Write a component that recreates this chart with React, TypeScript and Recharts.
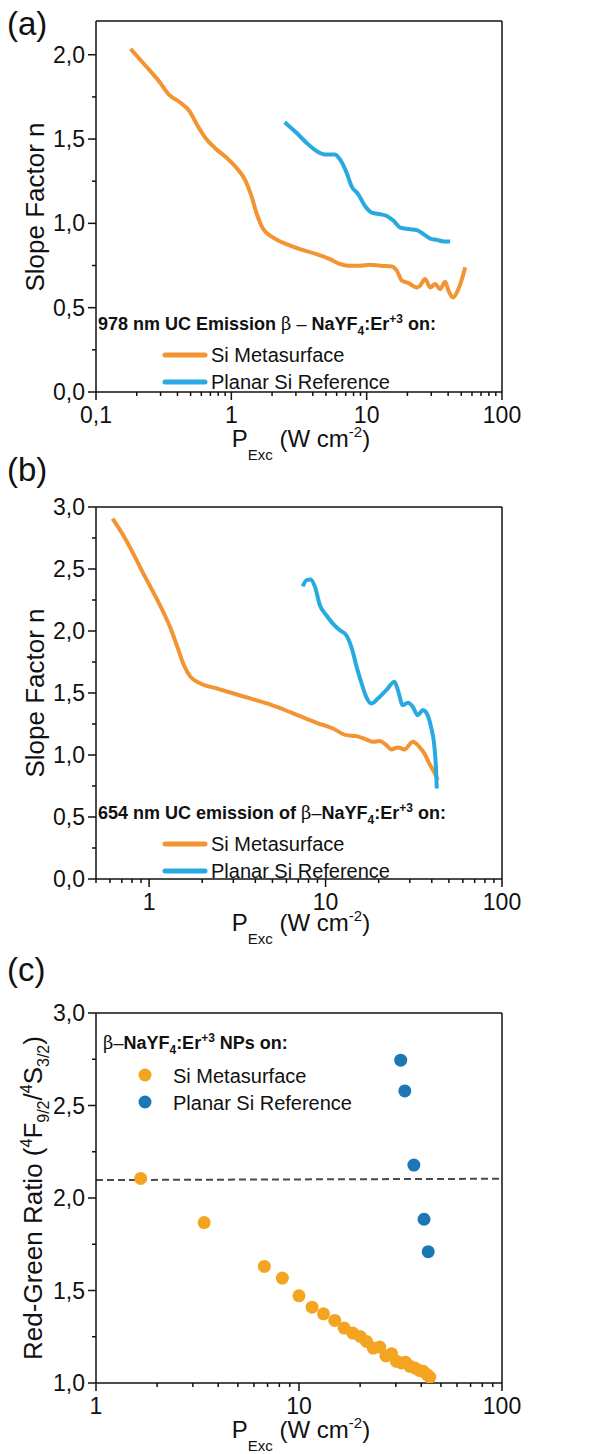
import React from 'react';
import { LineChart, Line, ScatterChart, Scatter, XAxis, YAxis, ReferenceLine, Legend } from 'recharts';

const FONT = "'Liberation Sans', Arial, sans-serif";
const ORANGE_LINE = '#F39433';
const BLUE_LINE = '#29A9E1';
const ORANGE_DOT = '#F3A521';
const BLUE_DOT = '#1D77B5';

// (a) slope factor, 978 nm UC emission
const aMetaP = [0.18, 0.235, 0.294, 0.349, 0.414, 0.491, 0.566, 0.653, 0.774, 0.918, 1.09, 1.26, 1.41, 1.53, 1.72, 2.04, 2.55, 3.21, 4.26, 5.35, 6.35, 7.31, 8.93, 10.6, 12.6, 15.3, 16.7, 18.2, 20.4, 23.5, 24.8, 27.0, 29.5, 32.1, 34.9, 38.0, 40.3, 43.4, 46.4, 50.6, 53.5];
const aMetaN = [2.035, 1.93, 1.84, 1.76, 1.72, 1.665, 1.576, 1.5, 1.44, 1.39, 1.33, 1.26, 1.16, 1.064, 0.966, 0.916, 0.877, 0.847, 0.818, 0.788, 0.759, 0.749, 0.749, 0.755, 0.749, 0.745, 0.72, 0.66, 0.646, 0.62, 0.63, 0.67, 0.62, 0.64, 0.61, 0.654, 0.6, 0.56, 0.59, 0.67, 0.74];
const aRefP = [2.48, 3.03, 3.59, 4.26, 4.91, 5.82, 6.35, 7.11, 7.74, 8.67, 9.72, 10.9, 12.6, 14.1, 15.8, 17.7, 20.4, 23.5, 26.3, 29.5, 33.0, 37.0, 41.4];
const aRefN = [1.6, 1.537, 1.478, 1.429, 1.409, 1.409, 1.379, 1.3, 1.22, 1.172, 1.103, 1.064, 1.054, 1.044, 1.015, 0.975, 0.966, 0.96, 0.936, 0.91, 0.902, 0.893, 0.893];

// (b) slope factor, 654 nm UC emission
const bMetaP = [0.621, 0.723, 0.823, 0.938, 1.067, 1.215, 1.325, 1.445, 1.575, 1.718, 1.955, 2.43, 3.01, 3.74, 4.65, 5.77, 7.17, 8.9, 11.0, 13.1, 15.0, 17.0, 18.6, 20.2, 22.1, 23.6, 25.7, 28.0, 31.2, 34.0, 36.3, 38.7, 41.4, 43.2];
const bMetaN = [2.906, 2.758, 2.61, 2.45, 2.3, 2.14, 2.02, 1.872, 1.724, 1.63, 1.577, 1.536, 1.496, 1.456, 1.416, 1.367, 1.313, 1.26, 1.214, 1.16, 1.152, 1.125, 1.107, 1.112, 1.08, 1.045, 1.061, 1.045, 1.107, 1.066, 1.013, 0.932, 0.857, 0.798];
const bRefP = [7.42, 7.81, 8.23, 8.71, 9.29, 10.1, 11.0, 12.05, 13.1, 14.0, 15.0, 16.0, 17.0, 18.2, 19.8, 22.1, 24.6, 25.7, 27.4, 29.3, 31.2, 33.3, 35.6, 37.9, 39.6, 41.4, 42.3, 42.7];
const bRefN = [2.36, 2.41, 2.415, 2.356, 2.208, 2.127, 2.06, 2.006, 1.966, 1.872, 1.711, 1.577, 1.469, 1.415, 1.456, 1.523, 1.59, 1.523, 1.402, 1.421, 1.389, 1.32, 1.362, 1.32, 1.227, 1.066, 0.878, 0.73];

// (c) red-green ratio
const cMetaP = [1.66, 3.41, 6.75, 8.28, 10.0, 11.6, 13.2, 15.0, 16.7, 18.4, 20.0, 21.5, 23.2, 25.0, 26.8, 28.6, 30.2, 32.0, 33.5, 35.2, 37.2, 39.1, 40.9, 42.8, 44.1];
const cMetaR = [2.106, 1.867, 1.63, 1.567, 1.471, 1.41, 1.374, 1.338, 1.297, 1.27, 1.252, 1.225, 1.189, 1.194, 1.147, 1.158, 1.117, 1.108, 1.112, 1.09, 1.081, 1.068, 1.063, 1.045, 1.032];
const cRefP = [31.7, 33.2, 36.8, 41.3, 43.3];
const cRefR = [2.745, 2.579, 2.178, 1.885, 1.71];
const cDashP = [1, 100];
const cDashR = [2.097, 2.104];

// ticks
const aXTicks = [0.1, 0.2, 0.3, 0.4, 0.5, 0.6, 0.7, 0.8, 0.9, 1, 2, 3, 4, 5, 6, 7, 8, 9, 10, 20, 30, 40, 50, 60, 70, 80, 90, 100];
const bXTicks = [0.5, 0.6, 0.7, 0.8, 0.9, 1, 2, 3, 4, 5, 6, 7, 8, 9, 10, 20, 30, 40, 50, 60, 70, 80, 90, 100];
const cXTicks = [1, 2, 3, 4, 5, 6, 7, 8, 9, 10, 20, 30, 40, 50, 60, 70, 80, 90, 100];
const xMajors = [0.1, 1, 10, 100];
const aYTicks = [0, 0.25, 0.5, 0.75, 1, 1.25, 1.5, 1.75, 2];
const bYTicks = [0, 0.25, 0.5, 0.75, 1, 1.25, 1.5, 1.75, 2, 2.25, 2.5, 2.75, 3];
const cYTicks = [1, 1.25, 1.5, 1.75, 2, 2.25, 2.5, 2.75, 3];

const zip = (xs: number[], ys: number[]) => xs.map((x, i) => ({ x, y: ys[i] }));

const isXMajor = (v: number) => xMajors.some((m) => Math.abs(m - v) < 1e-9);
const isYMajor = (v: number) => Math.abs(v * 2 - Math.round(v * 2)) < 1e-9;

const XTick = (props: any) => {
  const { x, y, payload } = props;
  const major = isXMajor(payload.value);
  return (
    <g>
      <line x1={x} x2={x} y1={y} y2={y + (major ? 8 : 4)} stroke="#111" strokeWidth={1.5} />
      {major && (
        <text x={x} y={y + 31} textAnchor="middle" fontSize={23} fontFamily={FONT} fill="#111">
          {String(payload.value).replace('.', ',')}
        </text>
      )}
    </g>
  );
};

const YTick = (props: any) => {
  const { x, y, payload } = props;
  const major = isYMajor(payload.value);
  return (
    <g>
      <line x1={x - (major ? 8 : 4)} x2={x} y1={y} y2={y} stroke="#111" strokeWidth={1.5} />
      {major && (
        <text x={x - 11} y={y + 8} textAnchor="end" fontSize={23} fontFamily={FONT} fill="#111">
          {payload.value.toFixed(1).replace('.', ',')}
        </text>
      )}
    </g>
  );
};

const xLabel = (cx: number, by: number) => () => (
  <text x={cx} y={by} textAnchor="middle" fontSize={24} fontFamily={FONT} fill="#111">
    <tspan>P</tspan>
    <tspan fontSize={15} dy={13}>Exc</tspan>
    <tspan dy={-13}> (W cm</tspan>
    <tspan fontSize={15} dy={-10}>-2</tspan>
    <tspan dy={10}>)</tspan>
  </text>
);

const slopeLabel = (cy: number) => () => (
  <text x={44} y={cy} transform={`rotate(-90, 44, ${cy})`} textAnchor="middle" fontSize={26} fontFamily={FONT} fill="#111">
    Slope Factor n
  </text>
);

const ratioLabel = (cy: number) => () => (
  <text x={42} y={cy} transform={`rotate(-90, 42, ${cy})`} textAnchor="middle" fontSize={26} fontFamily={FONT} fill="#111">
    <tspan>Red-Green Ratio (</tspan>
    <tspan fontSize={16} dy={-10}>4</tspan>
    <tspan dy={10}>F</tspan>
    <tspan fontSize={16} dy={7}>9/2</tspan>
    <tspan dy={-7}>/</tspan>
    <tspan fontSize={16} dy={-10}>4</tspan>
    <tspan dy={10}>S</tspan>
    <tspan fontSize={16} dy={7}>3/2</tspan>
    <tspan dy={-7}>)</tspan>
  </text>
);

const Formula = ({ dash }: { dash: string }) => (
  <>
    <tspan fontFamily="'DejaVu Serif', serif" fontWeight={400}>β</tspan>
    <tspan fontWeight={400}>{dash}</tspan>
    <tspan>NaYF</tspan>
    <tspan fontSize={12} dy={5}>4</tspan>
    <tspan dy={-5}>:Er</tspan>
    <tspan fontSize={12} dy={-7}>+3</tspan>
    <tspan dy={7}> </tspan>
  </>
);

const LineLegend = ({ title }: { title: React.ReactNode }) => (
  <svg width={420} height={100} style={{ overflow: 'visible' }}>
    <text x={8} y={28} fontSize={18} fontWeight={700} fontFamily={FONT} fill="#111">{title}</text>
    <line x1={75} x2={115} y1={53} y2={53} stroke={ORANGE_LINE} strokeWidth={5} strokeLinecap="round" />
    <text x={121} y={60} fontSize={20} fontFamily={FONT} fill="#111">Si Metasurface</text>
    <line x1={75} x2={115} y1={80} y2={80} stroke={BLUE_LINE} strokeWidth={5} strokeLinecap="round" />
    <text x={121} y={87} fontSize={20} fontFamily={FONT} fill="#111">Planar Si Reference</text>
  </svg>
);

const DotLegend = () => (
  <svg width={320} height={100} style={{ overflow: 'visible' }}>
    <text x={8} y={24} fontSize={18} fontWeight={700} fontFamily={FONT} fill="#111">
      <Formula dash="–" />
      <tspan>NPs on:</tspan>
    </text>
    <circle cx={50} cy={50} r={6.5} fill={ORANGE_DOT} />
    <text x={78} y={58} fontSize={20} fontFamily={FONT} fill="#111">Si Metasurface</text>
    <circle cx={50} cy={77} r={6.5} fill={BLUE_DOT} />
    <text x={78} y={85} fontSize={20} fontFamily={FONT} fill="#111">Planar Si Reference</text>
  </svg>
);

const Dot = (color: string) => (props: any) => (
  <circle cx={props.cx} cy={props.cy} r={6.5} fill={color} />
);

const axisLine = { stroke: '#111', strokeWidth: 1.5 };

export default function App() {
  return (
    <div style={{ position: 'absolute', left: 0, top: 0, width: 593, height: 1454, background: '#fff', fontFamily: FONT }}>
      {/* panel (a) */}
      <div style={{ position: 'absolute', left: 0, top: 0 }}>
        <LineChart width={593} height={470} margin={{ top: 21, right: 91, bottom: 0, left: 0 }}>
          <XAxis type="number" dataKey="x" scale="log" domain={[0.1, 100]} ticks={aXTicks} interval={0}
            allowDataOverflow height={78} tickSize={0} tickMargin={0} tickLine={false} axisLine={axisLine}
            tick={XTick} label={xLabel(301, 447)} />
          <YAxis type="number" dataKey="y" domain={[0, 2.2]} ticks={aYTicks} interval={0} allowDataOverflow
            width={96} tickSize={0} tickMargin={0} tickLine={false} axisLine={axisLine}
            tick={YTick} label={slopeLabel(207)} />
          <ReferenceLine y={2.2} stroke="#111" strokeWidth={1.5} />
          <ReferenceLine x={100} stroke="#111" strokeWidth={1.5} />
          <Line data={zip(aMetaP, aMetaN)} dataKey="y" type="monotone" stroke={ORANGE_LINE} strokeWidth={4} dot={false} isAnimationActive={false} />
          <Line data={zip(aRefP, aRefN)} dataKey="y" type="monotone" stroke={BLUE_LINE} strokeWidth={4} dot={false} isAnimationActive={false} />
          <Legend layout="horizontal" verticalAlign="middle" align="center"
            wrapperStyle={{ left: 90, top: 302, width: 420, height: 100 }}
            content={() => (
              <LineLegend title={<>978 nm UC Emission <Formula dash=" – " />on:</>} />
            )} />
        </LineChart>
      </div>

      {/* panel (b) */}
      <div style={{ position: 'absolute', left: 0, top: 480 }}>
        <LineChart width={593} height={470} margin={{ top: 27, right: 91, bottom: 0, left: 0 }}>
          <XAxis type="number" dataKey="x" scale="log" domain={[0.5, 100]} ticks={bXTicks} interval={0}
            allowDataOverflow height={71} tickSize={0} tickMargin={0} tickLine={false} axisLine={axisLine}
            tick={XTick} label={xLabel(301, 451)} />
          <YAxis type="number" dataKey="y" domain={[0, 3]} ticks={bYTicks} interval={0} allowDataOverflow
            width={96} tickSize={0} tickMargin={0} tickLine={false} axisLine={axisLine}
            tick={YTick} label={slopeLabel(213)} />
          <ReferenceLine y={3} stroke="#111" strokeWidth={1.5} />
          <ReferenceLine x={100} stroke="#111" strokeWidth={1.5} />
          <Line data={zip(bMetaP, bMetaN)} dataKey="y" type="monotone" stroke={ORANGE_LINE} strokeWidth={4} dot={false} isAnimationActive={false} />
          <Line data={zip(bRefP, bRefN)} dataKey="y" type="monotone" stroke={BLUE_LINE} strokeWidth={4} dot={false} isAnimationActive={false} />
          <Legend layout="horizontal" verticalAlign="middle" align="center"
            wrapperStyle={{ left: 90, top: 311, width: 420, height: 100 }}
            content={() => (
              <LineLegend title={<>654 nm UC emission of <Formula dash="–" />on:</>} />
            )} />
        </LineChart>
      </div>

      {/* panel (c) */}
      <div style={{ position: 'absolute', left: 0, top: 950 }}>
        <ScatterChart width={593} height={504} margin={{ top: 63, right: 91, bottom: 0, left: 0 }}>
          <XAxis type="number" dataKey="x" scale="log" domain={[1, 100]} ticks={cXTicks} interval={0}
            allowDataOverflow height={71} tickSize={0} tickMargin={0} tickLine={false} axisLine={axisLine}
            tick={XTick} label={xLabel(301, 488)} />
          <YAxis type="number" dataKey="y" domain={[1, 3]} ticks={cYTicks} interval={0} allowDataOverflow
            width={96} tickSize={0} tickMargin={0} tickLine={false} axisLine={axisLine}
            tick={YTick} label={ratioLabel(248)} />
          <ReferenceLine y={3} stroke="#111" strokeWidth={1.5} />
          <ReferenceLine x={100} stroke="#111" strokeWidth={1.5} />
          <ReferenceLine segment={zip(cDashP, cDashR)} stroke="#4a4a4a" strokeWidth={2} strokeDasharray="7 4" />
          <Scatter data={zip(cMetaP, cMetaR)} shape={Dot(ORANGE_DOT)} isAnimationActive={false} />
          <Scatter data={zip(cRefP, cRefR)} shape={Dot(BLUE_DOT)} isAnimationActive={false} />
          <Legend layout="horizontal" verticalAlign="middle" align="center"
            wrapperStyle={{ left: 95, top: 75, width: 320, height: 100 }}
            content={() => <DotLegend />} />
        </ScatterChart>
      </div>

      {/* panel letters */}
      <svg width={593} height={1454} style={{ position: 'absolute', left: 0, top: 0, pointerEvents: 'none' }}>
        <text x={7} y={35} fontSize={33} fontFamily={FONT} fill="#111">(a)</text>
        <text x={7} y={481} fontSize={33} fontFamily={FONT} fill="#111">(b)</text>
        <text x={7} y={981} fontSize={33} fontFamily={FONT} fill="#111">(c)</text>
      </svg>
    </div>
  );
}
